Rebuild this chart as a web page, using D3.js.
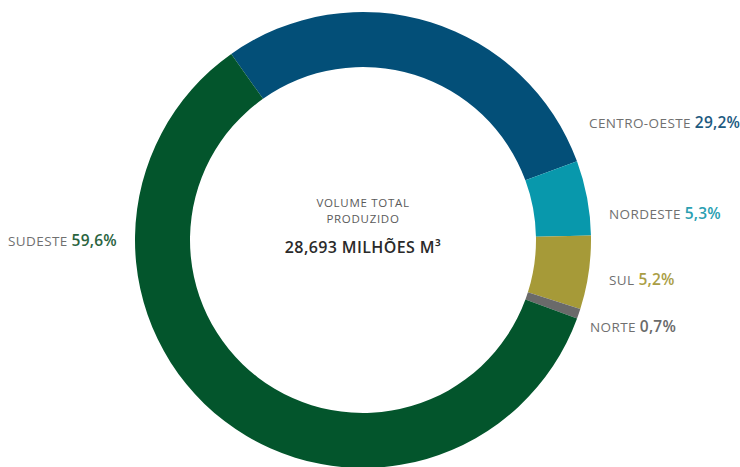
<!DOCTYPE html>
<html>
<head>
<meta charset="utf-8">
<script src="https://cdn.jsdelivr.net/npm/d3@7"></script>
<style>
  html, body { margin: 0; padding: 0; background: #fff; }
  svg { display: block; font-family: "Open Sans", "Lato", sans-serif; }
</style>
</head>
<body>
<svg id="chart" width="740" height="467"></svg>
<script>
// Regional share of total volume produced
const regions = ["CENTRO-OESTE", "NORDESTE", "SUL", "NORTE", "SUDESTE"];
const shares = [29.2, 5.3, 5.2, 0.7, 59.6];
const shareLabels = ["29,2%", "5,3%", "5,2%", "0,7%", "59,6%"];
const regionColors = ["#034f78", "#0898ac", "#a69a38", "#6a6a6a", "#03552c"];
const valueColors = ["#1d5a80", "#2a9fb2", "#aa9e45", "#6a6a6a", "#2a6440"];
const centerLines = ["VOLUME TOTAL", "PRODUZIDO"];
const totalLabel = "28,693 MILHÕES M³";

const svg = d3.select("#chart");
const cx = 363, cy = 240, outerR = 228, innerR = 173;

const data = regions.map((r, i) => ({
  region: r, value: shares[i], label: shareLabels[i],
  color: regionColors[i], textColor: valueColors[i]
}));

const start = -35.3 * Math.PI / 180;
const pie = d3.pie().sort(null).value(d => d.value)
  .startAngle(start).endAngle(start + 2 * Math.PI);
const arc = d3.arc().innerRadius(innerR).outerRadius(outerR);

const g = svg.append("g").attr("transform", `translate(${cx},${cy})`);
g.selectAll("path").data(pie(data)).join("path")
  .attr("d", arc)
  .attr("fill", d => d.data.color);

// Region labels placed beside the ring
const labelPos = {
  "CENTRO-OESTE": { x: 589, y: 128 },
  "NORDESTE": { x: 609, y: 219 },
  "SUL": { x: 609, y: 285 },
  "NORTE": { x: 590, y: 332 },
  "SUDESTE": { x: 8, y: 246 }
};

data.forEach(d => {
  const p = labelPos[d.region];
  const t = svg.append("text").attr("x", p.x).attr("y", p.y)
    .attr("font-size", 13.5).attr("letter-spacing", 0.4);
  t.append("tspan").attr("fill", "#707070").text(d.region + " ");
  t.append("tspan").attr("fill", d.textColor).attr("font-weight", 600)
    .attr("font-size", 15.5).attr("letter-spacing", 0.2).text(d.label);
});

// Center caption
svg.selectAll("text.center").data(centerLines).join("text")
  .attr("class", "center")
  .attr("x", cx).attr("y", (d, i) => 207 + i * 15.5)
  .attr("text-anchor", "middle")
  .attr("font-size", 11.5)
  .attr("letter-spacing", 0.7)
  .attr("fill", "#5a5a5a")
  .text(d => d);

svg.append("text")
  .attr("x", cx).attr("y", 253)
  .attr("text-anchor", "middle")
  .attr("font-size", 16)
  .attr("font-weight", 600)
  .attr("letter-spacing", 0.4)
  .attr("fill", "#2a2a2a")
  .text(totalLabel);
</script>
</body>
</html>
